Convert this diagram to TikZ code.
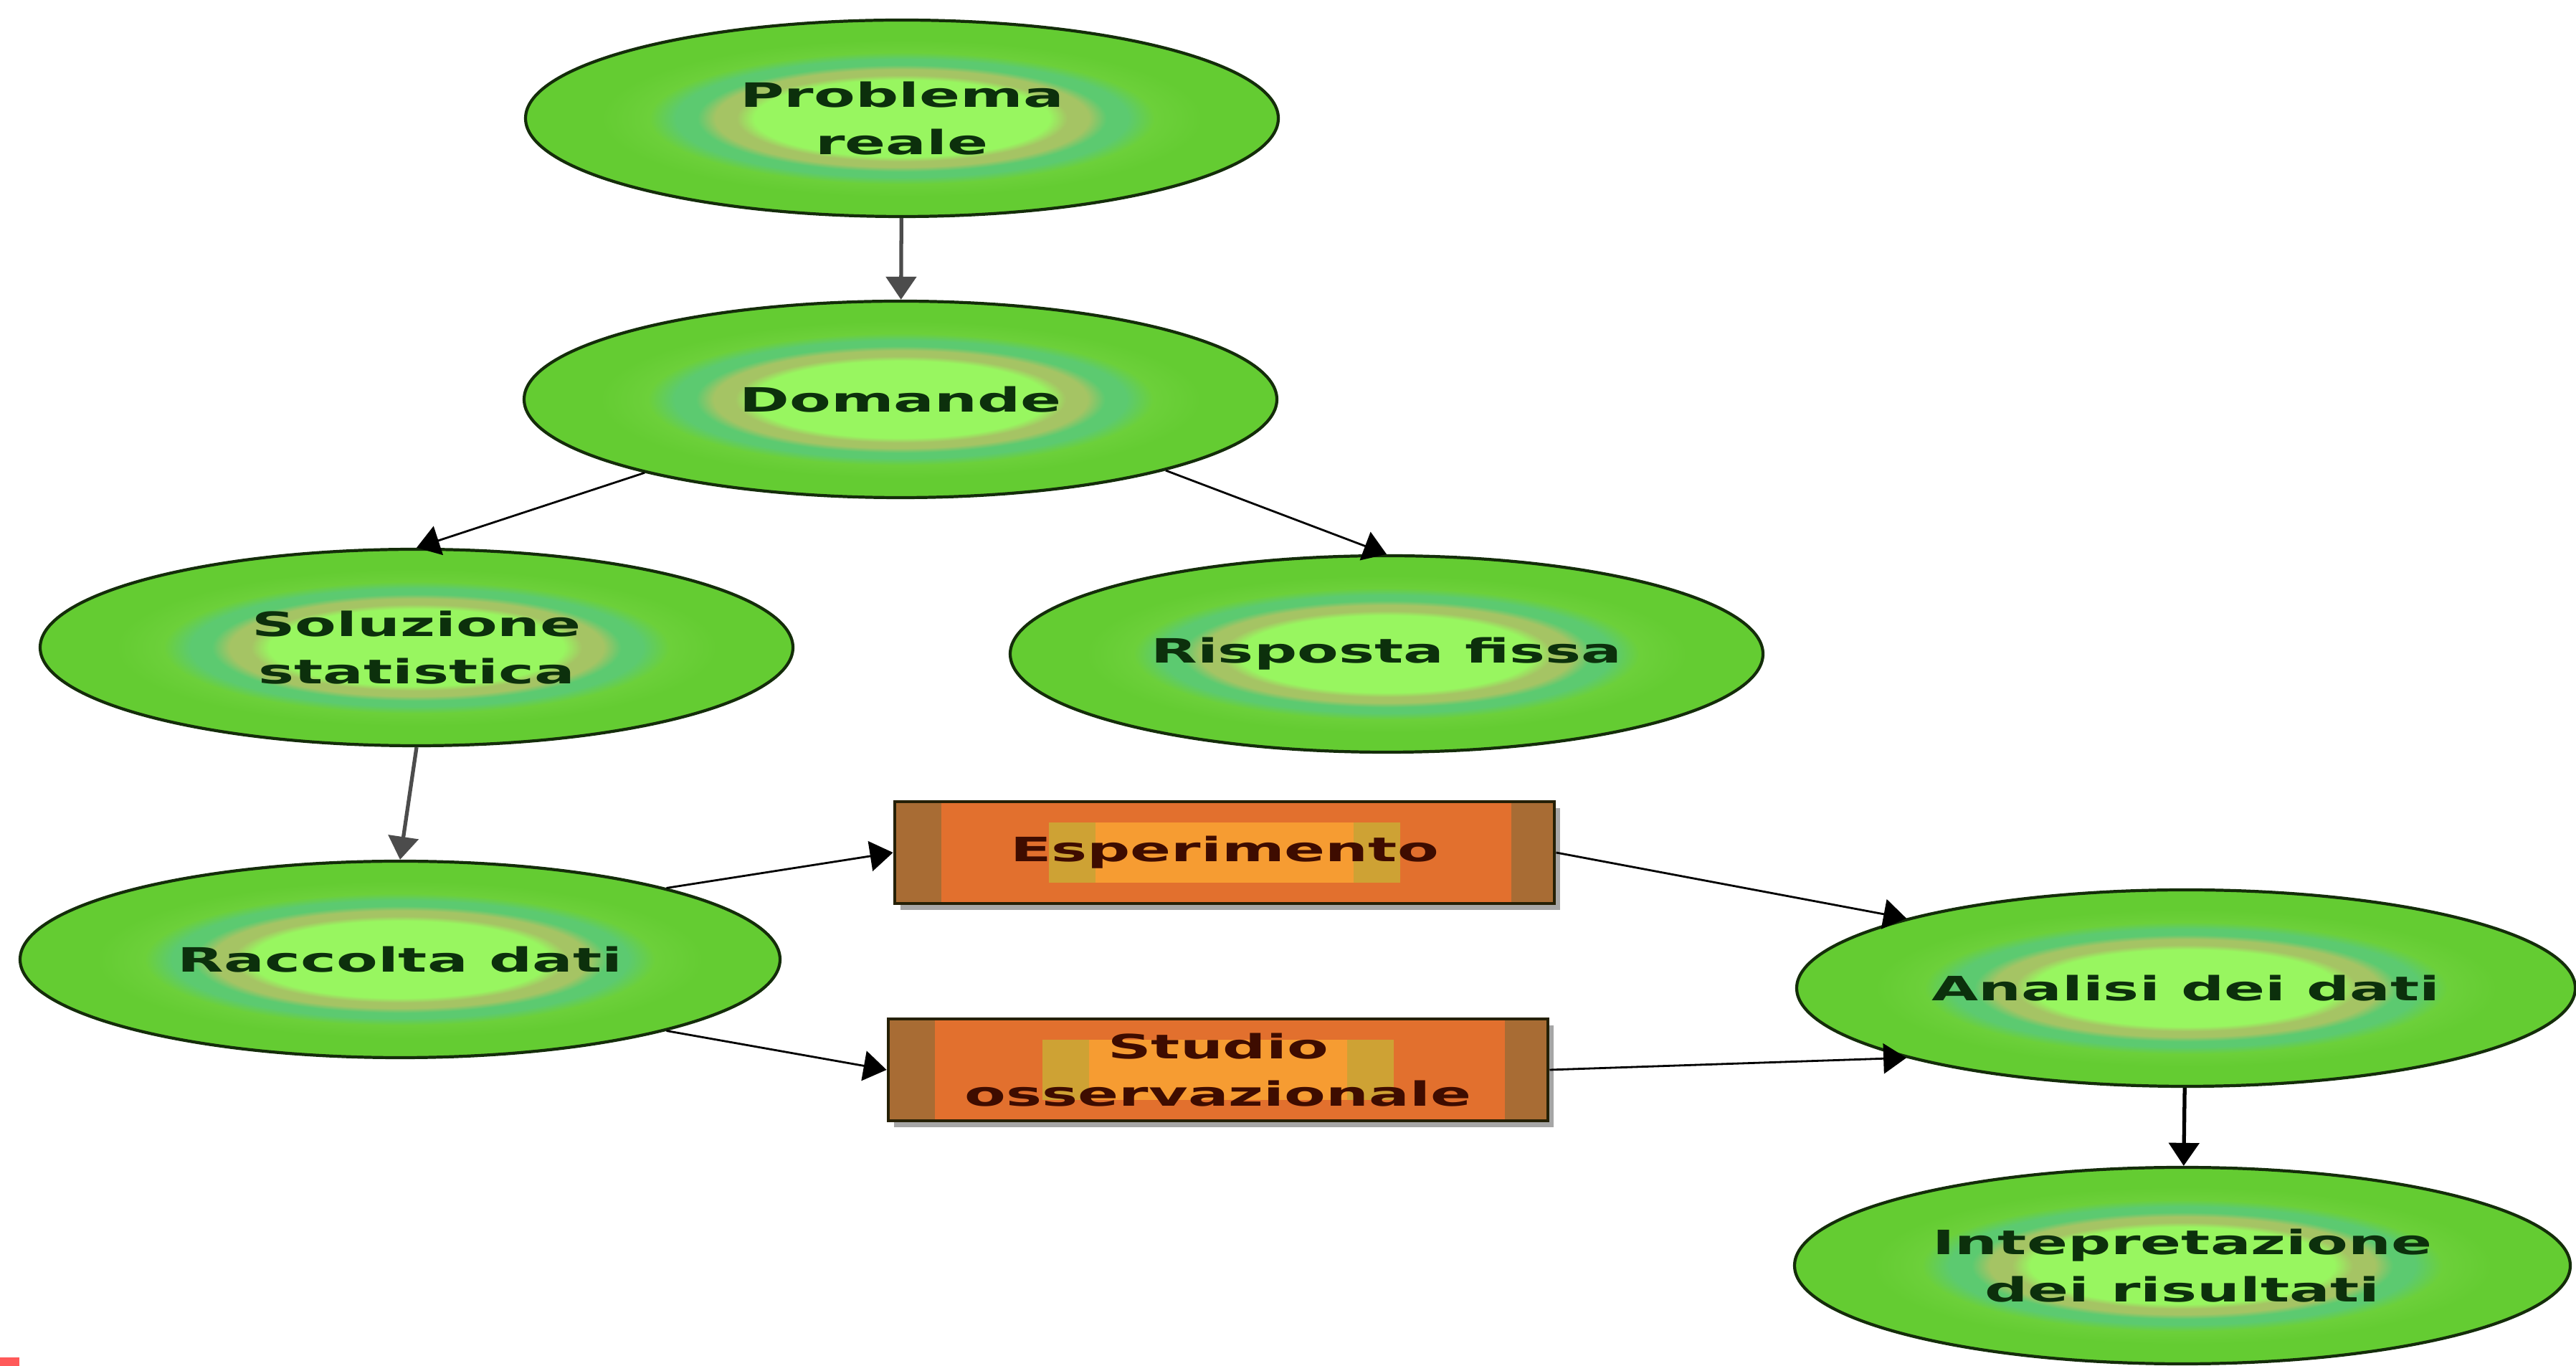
\documentclass[tikz,border=0pt]{standalone}
\usepackage{fontspec}
\usetikzlibrary{shapes.geometric,arrows.meta,shadows}
\newfontfamily\labelfont[FakeStretch=1.8]{DejaVu Sans}
\definecolor{coreg}{RGB}{152,246,96}
\definecolor{oliveg}{RGB}{165,196,100}
\definecolor{tealg}{RGB}{92,202,112}
\definecolor{midg}{RGB}{108,208,58}
\definecolor{outerg}{RGB}{100,204,50}
\definecolor{ovalline}{RGB}{20,45,10}
\definecolor{ovaltext}{RGB}{12,48,12}
\definecolor{boxorange}{RGB}{226,112,46}
\definecolor{bandbrown}{RGB}{168,108,52}
\definecolor{coreedge}{RGB}{206,162,52}
\definecolor{corefill}{RGB}{246,156,50}
\definecolor{boxtext}{RGB}{62,12,0}
\pgfdeclareradialshading{ovalglow}{\pgfpoint{0bp}{0bp}}{color(0bp)=(coreg); color(9.8bp)=(coreg); color(11bp)=(oliveg); color(12.4bp)=(oliveg); color(13.6bp)=(tealg); color(15bp)=(tealg); color(16.8bp)=(midg); color(20bp)=(outerg); color(50bp)=(outerg)}
\begin{document}
\begin{tikzpicture}[font=\labelfont\bfseries\fontsize{13.3}{19}\selectfont,
  >={Triangle[width=0.42cm,length=0.32cm]},
  oval/.style={ellipse, draw=ovalline, line width=1.2pt, shading=ovalglow, minimum width=10.5cm, minimum height=2.74cm, inner sep=0pt, align=center, text=ovaltext},
  workbox/.style={draw=ovalline!60!boxtext, line width=1.4pt, fill=boxorange, minimum width=9.2cm, minimum height=1.42cm, inner sep=0pt, align=center, text=boxtext,
    drop shadow={shadow xshift=0.08cm, shadow yshift=-0.09cm, fill=black, opacity=0.35},
    path picture={
      \fill[bandbrown] (path picture bounding box.south west) rectangle ([xshift=0.65cm]path picture bounding box.north west);
      \fill[bandbrown] (path picture bounding box.south east) rectangle ([xshift=-0.6cm]path picture bounding box.north east);
      \fill[coreedge] ([shift={(-2.45,-0.42)}]path picture bounding box.center) rectangle ([shift={(2.45,0.42)}]path picture bounding box.center);
      \fill[corefill] ([shift={(-1.8,-0.42)}]path picture bounding box.center) rectangle ([shift={(1.8,0.42)}]path picture bounding box.center);}},
  link/.style={->, line width=0.8pt},
  vlink/.style={->, line width=1.5pt, black!70}]
  \useasboundingbox[fill=white] (0,0) rectangle (35.93,19.05);
  \node[oval] (prob) at (12.58,17.40) {Problema\\reale};
  \node[oval] (dom) at (12.56,13.48) {Domande};
  \node[oval] (sol) at (5.81,10.02) {Soluzione\\statistica};
  \node[oval] (risp) at (19.34,9.93) {Risposta fissa};
  \node[oval, minimum width=10.6cm] (racc) at (5.58,5.67) {Raccolta dati};
  \node[workbox] (esp) at (17.08,7.16) {Esperimento};
  \node[workbox] (stud) at (16.99,4.13) {Studio\\osservazionale};
  \node[oval, minimum width=10.86cm] (anal) at (30.49,5.27) {Analisi dei dati};
  \node[oval, minimum width=10.82cm] (interp) at (30.44,1.40) {Intepretazione\\dei risultati};
  \draw[vlink] (prob) -- (dom);
  \draw[link] (dom.196) -- (sol.north);
  \draw[link] (dom.345) -- (risp.north);
  \draw[vlink] (sol.south) -- (racc.north);
  \draw[link] (racc.15) -- (esp.west);
  \draw[link] (racc.-15) -- (stud.west);
  \draw[link] (esp.east) -- (anal.166);
  \draw[link] (stud.east) -- (anal.194);
  \draw[vlink, black] (anal) -- (interp);
  % segno rosso in basso a sinistra
  \fill[red!65!white] (0,0) rectangle (0.27,0.12);
\end{tikzpicture}
\end{document}
